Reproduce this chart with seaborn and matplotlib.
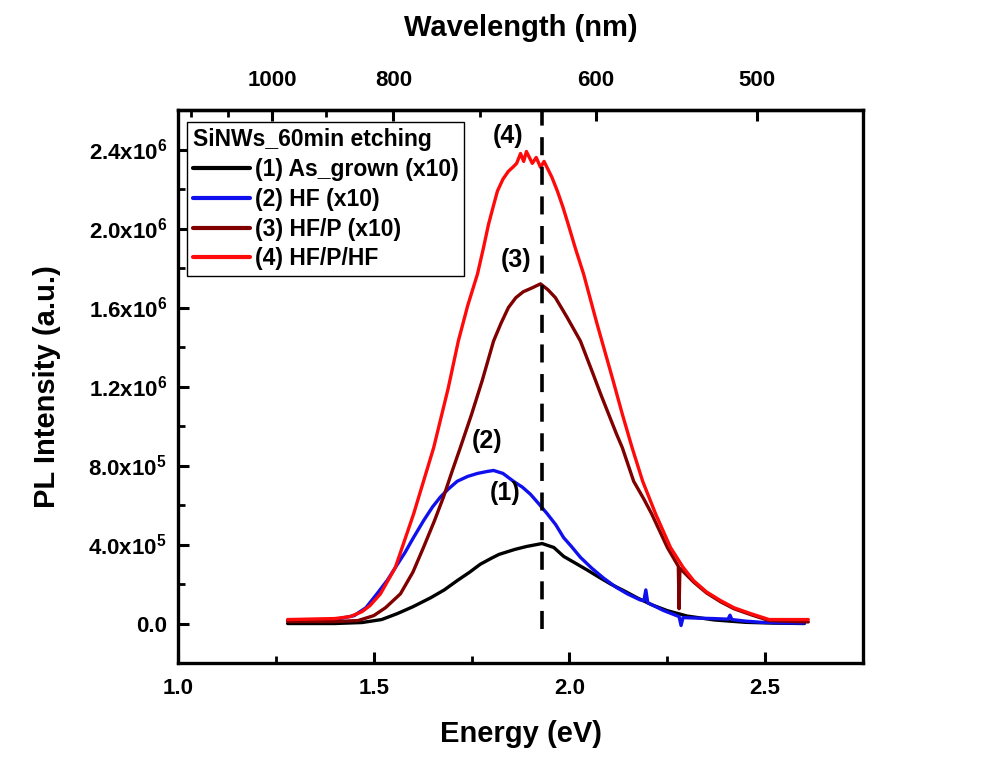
import matplotlib
matplotlib.use('Agg')
import matplotlib.pyplot as plt
from matplotlib.ticker import FixedLocator, FuncFormatter, MultipleLocator
import seaborn as sns
import numpy as np

# (1) As_grown (x10)
e1 = [1.28, 1.40, 1.47, 1.52, 1.56, 1.60, 1.645, 1.68, 1.713, 1.745, 1.772, 1.80,
      1.82, 1.86, 1.89, 1.93, 1.96, 1.985, 2.02, 2.046, 2.075, 2.105, 2.14, 2.173,
      2.21, 2.25, 2.30, 2.37, 2.45, 2.52, 2.60]
i1 = [0.0, 0.0, 0.005, 0.02, 0.05, 0.085, 0.13, 0.17, 0.217, 0.26, 0.30, 0.33,
      0.35, 0.375, 0.39, 0.405, 0.385, 0.34, 0.30, 0.27, 0.235, 0.20, 0.165, 0.13,
      0.095, 0.065, 0.038, 0.018, 0.006, 0.002, 0.0]

# (2) HF (x10)
e2 = [1.28, 1.40, 1.45, 1.48, 1.508, 1.535, 1.555, 1.58, 1.60, 1.627, 1.65, 1.67,
      1.69, 1.713, 1.74, 1.765, 1.79, 1.806, 1.83, 1.857, 1.88, 1.90, 1.92, 1.943,
      1.965, 1.985, 2.005, 2.028, 2.057, 2.087, 2.118, 2.148, 2.18, 2.19, 2.195, 2.20,
      2.24, 2.28, 2.285, 2.29, 2.33, 2.368, 2.405, 2.41, 2.415, 2.45, 2.49, 2.55, 2.60]
i2 = [0.015, 0.02, 0.04, 0.08, 0.15, 0.22, 0.283, 0.36, 0.43, 0.52, 0.59, 0.64,
      0.68, 0.72, 0.745, 0.76, 0.77, 0.775, 0.76, 0.72, 0.69, 0.655, 0.61, 0.556,
      0.50, 0.435, 0.39, 0.335, 0.28, 0.23, 0.185, 0.15, 0.12, 0.115, 0.17, 0.105,
      0.066, 0.035, -0.01, 0.03, 0.027, 0.025, 0.022, 0.042, 0.02, 0.012, 0.006, 0.003, 0.002]

# (3) HF/P (x10)
e3 = [1.28, 1.40, 1.46, 1.50, 1.53, 1.568, 1.60, 1.627, 1.655, 1.678, 1.70, 1.721,
      1.75, 1.777, 1.806, 1.825, 1.844, 1.863, 1.882, 1.905, 1.926, 1.945, 1.964,
      1.994, 2.028, 2.061, 2.08, 2.10, 2.12, 2.135, 2.164, 2.19, 2.21, 2.23, 2.25,
      2.278, 2.28, 2.282, 2.317, 2.35, 2.386, 2.42, 2.463, 2.51, 2.61]
i3 = [0.01, 0.01, 0.015, 0.04, 0.08, 0.15, 0.26, 0.385, 0.52, 0.64, 0.77, 0.89,
      1.06, 1.23, 1.43, 1.52, 1.60, 1.65, 1.68, 1.70, 1.72, 1.69, 1.65,
      1.55, 1.43, 1.26, 1.16, 1.06, 0.96, 0.89, 0.72, 0.63, 0.555, 0.47, 0.385,
      0.29, 0.075, 0.28, 0.21, 0.155, 0.11, 0.075, 0.045, 0.015, 0.008]

# (4) HF/P/HF
e4 = [1.28, 1.40, 1.44, 1.47, 1.49, 1.517, 1.555, 1.602, 1.653, 1.69, 1.716, 1.74,
      1.765, 1.78, 1.793, 1.805, 1.816, 1.83, 1.844, 1.855, 1.865, 1.875, 1.883,
      1.89, 1.905, 1.915, 1.926, 1.935, 1.945, 1.955, 1.969, 1.983, 1.997, 2.015,
      2.036, 2.053, 2.07, 2.09, 2.11, 2.135, 2.16, 2.187, 2.22, 2.258, 2.29, 2.317,
      2.35, 2.386, 2.42, 2.463, 2.51, 2.61]
i4 = [0.02, 0.025, 0.035, 0.06, 0.09, 0.15, 0.283, 0.556, 0.89, 1.19, 1.43, 1.61,
      1.77, 1.90, 2.02, 2.11, 2.19, 2.25, 2.29, 2.31, 2.33, 2.38, 2.34,
      2.39, 2.33, 2.36, 2.31, 2.34, 2.30, 2.26, 2.19, 2.11, 2.02, 1.90,
      1.77, 1.645, 1.52, 1.38, 1.24, 1.06, 0.89, 0.72, 0.555, 0.385, 0.285, 0.217,
      0.16, 0.116, 0.08, 0.05, 0.02, 0.02]

labels = ['(1) As_grown (x10)', '(2) HF (x10)', '(3) HF/P (x10)', '(4) HF/P/HF']
colors = ['#000000', '#1010ee', '#800000', '#ff0a0a']
peak_tags = ['(1)', '(2)', '(3)', '(4)']
tag_pos = [(1.836, 0.66), (1.79, 0.925), (1.864, 1.84), (1.844, 2.47)]
marker_energy = 1.93
wl_major = [1000, 800, 600, 500]
wl_minor = [1200, 1100, 900, 700]

sns.set_theme(style='ticks')
plt.rcParams['font.family'] = ['Liberation Sans', 'DejaVu Sans']
plt.rcParams['font.weight'] = 'bold'
plt.rcParams['mathtext.fontset'] = 'custom'
plt.rcParams['mathtext.rm'] = 'Liberation Sans:bold'
plt.rcParams['mathtext.default'] = 'rm'
plt.rcParams['text.color'] = 'black'
plt.rcParams['axes.labelcolor'] = 'black'
plt.rcParams['xtick.color'] = 'black'
plt.rcParams['ytick.color'] = 'black'

fig = plt.figure(figsize=(10.03, 7.75), dpi=100)
ax = fig.add_axes([0.1775, 0.1445, 0.683, 0.7135])

series = [(e1, i1), (e2, i2), (e3, i3), (e4, i4)]
for (e, i), lab, c in zip(series, labels, colors):
    sns.lineplot(x=np.array(e), y=np.array(i) * 1e6, color=c, lw=2.4, label=lab,
                 ax=ax, estimator=None, sort=False)

ax.vlines(marker_energy, -0.03e6, 2.6e6, colors='black', lw=2.6,
          linestyles=(0, (5, 3.2)))

for tag, (x, y) in zip(peak_tags, tag_pos):
    ax.text(x, y * 1e6, tag, fontsize=18, fontweight='bold', ha='center', va='center')

ax.set_xlim(1.0, 2.75)
ax.set_ylim(-0.2e6, 2.6e6)
ax.xaxis.set_major_locator(MultipleLocator(0.5))
ax.xaxis.set_minor_locator(MultipleLocator(0.25))
ax.yaxis.set_major_locator(MultipleLocator(0.4e6))
ax.yaxis.set_minor_locator(MultipleLocator(0.2e6))


def fmt_y(v, pos):
    if v < 0:
        return ''
    if v < 1:
        return '0.0'
    ex = int(np.floor(np.log10(v)))
    return f'{v / 10 ** ex:.1f}x10$^{{{ex}}}$'


ax.yaxis.set_major_formatter(FuncFormatter(fmt_y))
ax.xaxis.set_major_formatter(FuncFormatter(lambda v, p: f'{v:.1f}'))

for s in ax.spines.values():
    s.set_linewidth(2.4)
    s.set_color('black')
    s.set_visible(True)
ax.tick_params(which='major', direction='in', length=8, width=2.2, labelsize=16,
               colors='black')
ax.tick_params(which='minor', direction='in', length=5, width=2.0)
ax.tick_params(axis='x', which='major', pad=11)
ax.tick_params(axis='y', which='major', pad=8)
ax.tick_params(axis='x', which='both', top=False)
ax.tick_params(axis='y', which='both', right=False)
for t in ax.get_xticklabels() + ax.get_yticklabels():
    t.set_fontweight('bold')

ax.set_xlabel('Energy (eV)', fontsize=21, fontweight='bold', labelpad=15)
ax.set_ylabel('PL Intensity (a.u.)', fontsize=21, fontweight='bold', labelpad=20)

top = ax.secondary_xaxis('top', functions=(lambda e: 1240.0 / e, lambda w: 1240.0 / w))
top.xaxis.set_major_locator(FixedLocator(wl_major))
top.xaxis.set_minor_locator(FixedLocator(wl_minor))
top.xaxis.set_major_formatter(FuncFormatter(lambda v, p: f'{v:.0f}'))
top.tick_params(which='major', direction='in', length=8, width=2.2, labelsize=16, pad=14)
top.tick_params(which='minor', direction='in', length=5, width=2.0)
top.spines['top'].set_linewidth(2.4)
for t in top.get_xticklabels():
    t.set_fontweight('bold')
top.set_xlabel('Wavelength (nm)', fontsize=21, fontweight='bold', labelpad=24)

leg = ax.legend(loc='upper left', bbox_to_anchor=(0.013, 0.978), borderaxespad=0,
                title='SiNWs_60min etching', fontsize=16.5, handlelength=2.5,
                handletextpad=0.2, labelspacing=0.3, borderpad=0.25,
                fancybox=False, framealpha=1, edgecolor='black')
leg.get_frame().set_linewidth(1.0)
leg.get_title().set_fontweight('bold')
leg.get_title().set_fontsize(16.5)
leg._legend_box.align = 'left'
for t in leg.get_texts():
    t.set_fontweight('bold')
for h in leg.get_lines():
    h.set_linewidth(3.0)

fig.savefig('out.png', dpi=100)
